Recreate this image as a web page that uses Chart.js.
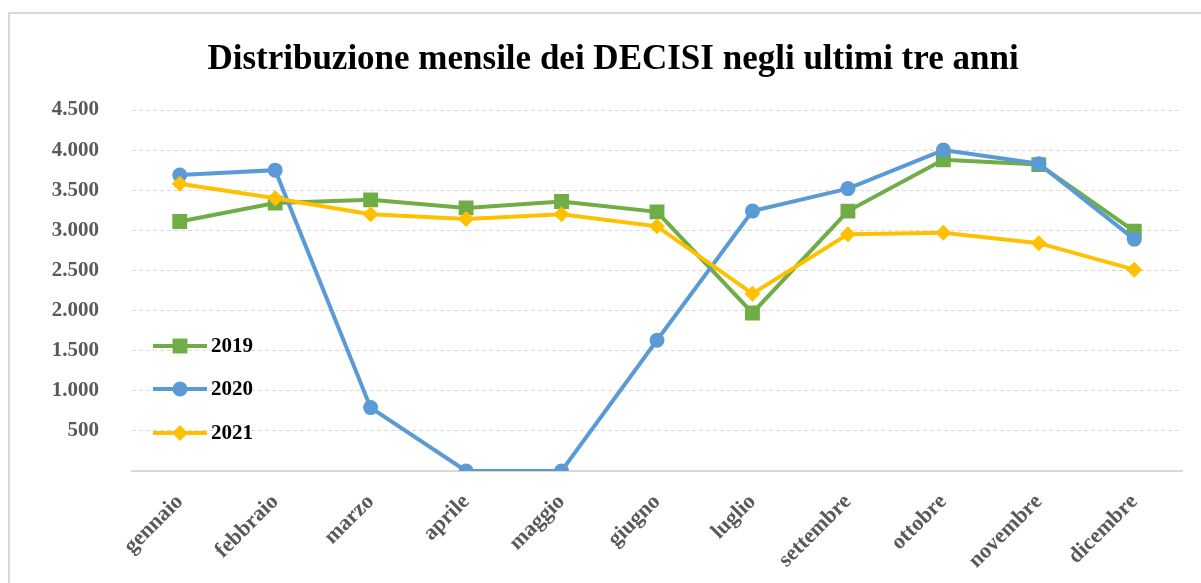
<!DOCTYPE html>
<html>
<head>
<meta charset="utf-8">
<script src="https://cdn.jsdelivr.net/npm/chart.js@4/dist/chart.umd.min.js"></script>
<style>
  html, body { margin: 0; padding: 0; background: #fff; }
  #wrap { width: 1201px; height: 583px; position: relative; }
</style>
</head>
<body>
<div id="wrap"><canvas id="chartDecisi"></canvas></div>
<script>
/* ── Data ─────────────────────────────────────────────────── */
const months = ['gennaio', 'febbraio', 'marzo', 'aprile', 'maggio', 'giugno',
  'luglio', 'settembre', 'ottobre', 'novembre', 'dicembre'];
const decisi2019 = [3110, 3340, 3380, 3280, 3360, 3230, 1970, 3240, 3880, 3820, 2990];
const decisi2020 = [3690, 3750, 790, 0, 0, 1630, 3240, 3520, 4000, 3830, 2890];
const decisi2021 = [3580, 3400, 3200, 3140, 3200, 3050, 2210, 2950, 2970, 2840, 2510];
const yTicks = [0, 500, 1000, 1500, 2000, 2500, 3000, 3500, 4000, 4500];

const Colors = {
  green: '#70AD47',
  blue: '#5B9BD5',
  yellow: '#FFC000',
  tick: '#595959',
  grid: '#D9D9D9',
};
const SERIF = "'Liberation Serif', 'DejaVu Serif', serif";

const fmt = (v) => v === 0 ? '' : v.toLocaleString('it-IT').replace(/\s/g, '.');

/* ── Frame around the chart ───────────────────────────────── */
const framePlugin = {
  id: 'frame',
  beforeDraw(chart) {
    const { ctx } = chart;
    ctx.save();
    ctx.strokeStyle = Colors.grid;
    ctx.lineWidth = 2;
    ctx.beginPath();
    ctx.moveTo(9, chart.height + 5);
    ctx.lineTo(9, 13);
    ctx.lineTo(chart.width + 5, 13);
    ctx.stroke();
    ctx.restore();
  },
};

/* ── Legend drawn inside the plot area ────────────────────── */
const innerLegend = {
  id: 'innerLegend',
  afterDraw(chart) {
    const { ctx, chartArea } = chart;
    const order = [2, 1, 0]; // 2019, 2020, 2021
    const x0 = chartArea.left + 21;
    const ys = [346, 389, 433];
    ctx.save();
    order.forEach((di, i) => {
      const ds = chart.data.datasets[di];
      const y = ys[i];
      ctx.strokeStyle = ds.borderColor;
      ctx.lineWidth = 4;
      ctx.beginPath();
      ctx.moveTo(x0, y);
      ctx.lineTo(x0 + 54, y);
      ctx.stroke();
      ctx.fillStyle = ds.borderColor;
      Chart.helpers.drawPoint(ctx, {
        pointStyle: ds.pointStyle,
        radius: ds.pointRadius,
        borderWidth: 0,
      }, x0 + 27, y);
      ctx.fillStyle = '#000';
      ctx.font = `bold 21px ${SERIF}`;
      ctx.textBaseline = 'middle';
      ctx.fillText(ds.label, x0 + 58, y + 1);
    });
    ctx.restore();
  },
};

new Chart(document.getElementById('chartDecisi'), {
  type: 'line',
  data: {
    labels: months,
    datasets: [
      {
        label: '2021', data: decisi2021, order: 1,
        borderColor: Colors.yellow, backgroundColor: Colors.yellow,
        pointStyle: 'rectRot', pointRadius: 8, pointBorderWidth: 0,
        borderWidth: 4, tension: 0,
      },
      {
        label: '2020', data: decisi2020, order: 2,
        borderColor: Colors.blue, backgroundColor: Colors.blue,
        pointStyle: 'circle', pointRadius: 7.5, pointBorderWidth: 0,
        borderWidth: 4, tension: 0,
      },
      {
        label: '2019', data: decisi2019, order: 3,
        borderColor: Colors.green, backgroundColor: Colors.green,
        pointStyle: 'rect', pointRadius: 10.5, pointBorderWidth: 0,
        borderWidth: 4, tension: 0,
      },
    ],
  },
  options: {
    responsive: true,
    maintainAspectRatio: false,
    animation: false,
    layout: { padding: { left: 44, right: 19, bottom: 0 } },
    plugins: {
      legend: { display: false },
      tooltip: { enabled: false },
      title: {
        display: true,
        text: 'Distribuzione mensile dei DECISI negli ultimi tre anni',
        color: '#000',
        font: { family: SERIF, size: 35, weight: 'bold', lineHeight: 1.2 },
        padding: { top: 39, bottom: 29 },
      },
    },
    scales: {
      x: {
        offset: true,
        grid: { display: false },
        border: { color: Colors.grid, width: 2 },
        ticks: {
          color: Colors.tick,
          font: { family: SERIF, size: 22, weight: 'bold' },
          maxRotation: 45, minRotation: 45,
          padding: 10,
        },
        afterFit: (scale) => { scale.height = 112; },
      },
      y: {
        min: 0, max: 4500,
        afterBuildTicks: (scale) => { scale.ticks = yTicks.map(v => ({ value: v })); },
        grid: { color: Colors.grid, lineWidth: 1, drawTicks: false },
        border: { display: false, dash: [4, 3] },
        ticks: {
          color: Colors.tick,
          font: { family: SERIF, size: 21, weight: 'bold' },
          padding: 33,
          callback: (v) => fmt(v),
        },
        afterFit: (scale) => { scale.width = 88; },
      },
    },
  },
  plugins: [framePlugin, innerLegend],
});
</script>
</body>
</html>
